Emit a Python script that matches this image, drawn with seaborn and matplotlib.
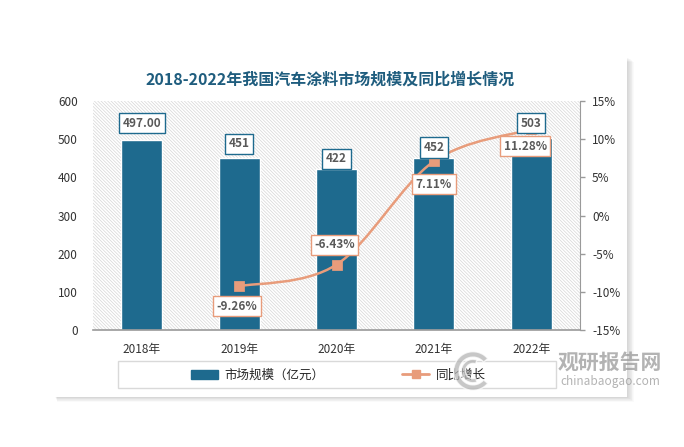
import numpy as np
import pandas as pd
import matplotlib
matplotlib.use("Agg")
import matplotlib.pyplot as plt
import matplotlib.patches as mpatches
from matplotlib.path import Path
from matplotlib.lines import Line2D
import seaborn as sns

# ── Data ─────────────────────────────────────────────
years        = ["2018年", "2019年", "2020年", "2021年", "2022年"]
market_size  = [497, 451, 422, 452, 503]          # 亿元
size_labels  = ["497.00", "451", "422", "452", "503"]
growth       = [np.nan, -9.26, -6.43, 7.11, 11.28]  # %
growth_labels = ["", "-9.26%", "-6.43%", "7.11%", "11.28%"]

# ── Style ────────────────────────────────────────────
BLUE   = "#1e6a8e"
ORANGE = "#e89c7b"
TITLE  = "#1f5d7e"
LABEL  = "#595959"
TICK   = "#333333"

sns.set_style("white")
plt.rcParams["font.family"] = ["Noto Sans CJK SC", "DejaVu Sans"]
plt.rcParams["hatch.linewidth"] = 0.5

fig = plt.figure(figsize=(6.84, 4.47), dpi=100)
fig.patch.set_facecolor("white")

# card with soft shadow (right / bottom)
CX, CY, CW, CH = 55 / 684, 1 - 397 / 447, 572 / 684, 340 / 447
for k in range(1, 9):
    fig.add_artist(mpatches.Rectangle((CX + k * 0.3 / 684, CY - k * 0.6 / 447), CW + k * 0.6 / 684, CH,
                                      transform=fig.transFigure, fc="#000000", alpha=0.018, lw=0, zorder=0))
fig.add_artist(mpatches.Rectangle((CX, CY), CW, CH, transform=fig.transFigure,
                                  fc="white", ec="none", zorder=1))

ax = fig.add_axes([0.136, 0.2617, 0.712, 0.5123])
ax.set_zorder(2)
ax.patch.set_alpha(0)
bg = mpatches.Rectangle((0, 0), 1, 1, transform=ax.transAxes, fc="white", ec="#d6d6d6",
                        hatch="\\" * 10, lw=0, zorder=0)
ax.add_patch(bg)

df = pd.DataFrame({"year": years, "size": market_size})
sns.barplot(data=df, x="year", y="size", color=BLUE, saturation=1, width=0.42,
            edgecolor="white", linewidth=1, ax=ax, zorder=2)
ax.set_ylim(0, 600)
ax.set_yticks(range(0, 601, 100))
ax.set_xlim(-0.5, 4.5)
ax.set_xlabel("")
ax.set_ylabel("")
for s in ["left", "top", "right"]:
    ax.spines[s].set_visible(False)
ax.spines["bottom"].set_color("#9a9a9a")
ax.spines["bottom"].set_linewidth(1.2)
ax.tick_params(axis="y", length=0, pad=11, labelsize=8.5, labelcolor=TICK)
ax.tick_params(axis="x", length=0, pad=9, labelsize=8.5, labelcolor=TICK)

# ── growth line on right axis ───────────────────────
ax2 = ax.twinx()
ax2.set_ylim(-15, 15)
ax2.set_yticks(range(-15, 16, 5))
ax2.set_yticklabels([f"{t}%" for t in range(-15, 16, 5)])
for s in ["left", "top", "bottom"]:
    ax2.spines[s].set_visible(False)
ax2.spines["right"].set_color("#9a9a9a")
ax2.tick_params(axis="y", length=3.6, width=1, color="#9a9a9a", pad=5, labelsize=8.5, labelcolor=TICK)

pts = [(i, g) for i, g in enumerate(growth) if not np.isnan(g)]
xs = np.array([p[0] for p in pts], dtype=float)
ys = np.array([p[1] for p in pts], dtype=float)
# smooth curve (cubic Bezier, Excel-like)
verts = [(xs[0], ys[0])]
codes = [Path.MOVETO]
n = len(xs)
for k in range(n - 1):
    p0 = np.array([xs[max(k - 1, 0)], ys[max(k - 1, 0)]])
    p1 = np.array([xs[k], ys[k]])
    p2 = np.array([xs[k + 1], ys[k + 1]])
    p3 = np.array([xs[min(k + 2, n - 1)], ys[min(k + 2, n - 1)]])
    c1 = p1 + (p2 - p0) / 6
    c2 = p2 - (p3 - p1) / 6
    verts += [tuple(c1), tuple(c2), tuple(p2)]
    codes += [Path.CURVE4] * 3
ax2.add_patch(mpatches.PathPatch(Path(verts, codes), fc="none", ec=ORANGE, lw=1.8, zorder=3))
sns.scatterplot(x=xs, y=ys, marker="s", s=45, color=ORANGE, edgecolor=ORANGE, ax=ax2, zorder=4)

# ── data labels ─────────────────────────────────────
bar_off = [17, 14, 10, 10, 15]
for i, (v, t) in enumerate(zip(market_size, size_labels)):
    ax2.annotate(t, xy=(i, v), xycoords=ax.transData, xytext=(0, bar_off[i]),
                 textcoords="offset pixels", ha="center", va="center",
                 fontsize=8.5, fontweight="bold", color=LABEL, zorder=6,
                 bbox=dict(boxstyle="square,pad=0.3", fc="white", ec=BLUE, lw=1))

grow_off = [(0, 0), (-2, -20), (-2, 20), (0, -23), (-6, -17)]
for i, (g, t) in enumerate(zip(growth, growth_labels)):
    if np.isnan(g):
        continue
    ax2.annotate(t, xy=(i, g), xytext=grow_off[i], textcoords="offset pixels",
                 ha="center", va="center", fontsize=8.5, fontweight="bold", color=LABEL, zorder=6,
                 bbox=dict(boxstyle="square,pad=0.3", fc="white", ec=ORANGE, lw=1))

# ── title ───────────────────────────────────────────
fig.text(0.483, 0.823, "2018-2022年我国汽车涂料市场规模及同比增长情况", ha="center", va="center",
         fontsize=11.5, fontweight="bold", color=TITLE, zorder=5)

# ── legend ──────────────────────────────────────────
fig.add_artist(mpatches.Rectangle((118 / 684, 1 - 388 / 447), 438 / 684, 27 / 447,
                                  transform=fig.transFigure, fc="none", ec="#d9d9d9", lw=1, zorder=3))
handles = [mpatches.Patch(color=BLUE),
           Line2D([], [], color=ORANGE, lw=2, marker="s", markersize=6)]
fig.legend(handles, ["市场规模（亿元）", "同比增长"], loc="center", bbox_to_anchor=(338 / 684, 1 - 375 / 447),
           ncol=2, frameon=False, fontsize=9, columnspacing=6.2, handlelength=2.2, handletextpad=0.5)

# ── watermark ───────────────────────────────────────
fig.text(0.892, 1 - 362 / 447, "观研报告网", ha="center", va="center", fontsize=15, fontweight="bold",
         color="#9a9a9a", alpha=0.75, zorder=7)
fig.text(0.892, 1 - 381 / 447, "chinabaogao.com", ha="center", va="center", fontsize=8.5,
         color="#9a9a9a", alpha=0.75, zorder=7)
lax = fig.add_axes([452 / 684, 1 - 392 / 447, 42 / 684, 42 / 447])
lax.set_zorder(8)
lax.patch.set_alpha(0)
lax.set_aspect("equal")
lax.axis("off")
lax.add_patch(mpatches.Wedge((0.5, 0.5), 0.46, 40, 320, width=0.13, fc="#b5b5b5", alpha=0.75))
lax.add_patch(mpatches.Wedge((0.5, 0.5), 0.28, 70, 290, width=0.1, fc="#b5b5b5", alpha=0.75))
lax.set_xlim(0, 1)
lax.set_ylim(0, 1)

fig.savefig("out.png", dpi=100)
